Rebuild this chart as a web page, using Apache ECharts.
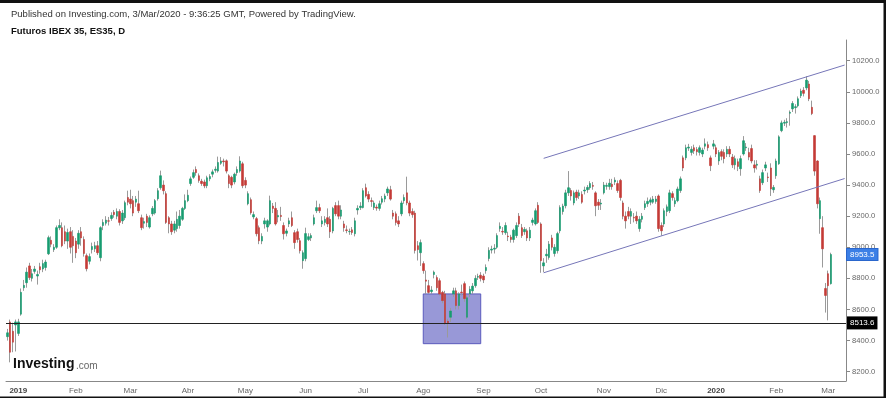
<!DOCTYPE html>
<html>
<head>
<meta charset="utf-8">
<script src="https://cdn.jsdelivr.net/npm/echarts@6/dist/echarts.min.js"></script>
<style>
  html, body { margin: 0; padding: 0; background: #fff; }
  #main { width: 886px; height: 398px; }
</style>
</head>
<body>
<div id="main"></div>
<script>
// daily candles, each row = [open, close, low, high]
var dec18 = [[8425,8450,8400,8475],[8520,8325,8260,8535],[8460,8390,8325,8515],[8500,8520,8330,8535]];
var jan19 = [[8446,8520,8430,8540],[8570,8710,8560,8735],[8740,8755,8720,8790],[8772,8840,8740,8870],[8880,8805,8790,8900],
  [8800,8830,8780,8860],[8845,8860,8830,8880],[8815,8825,8760,8850],[8875,8855,8830,8900],[8860,8895,8840,8920],
  [8870,8905,8850,8920],[8958,9062,8950,9075],[9045,9020,9000,9070],[8985,9000,8970,9020],[9000,9126,8990,9140],
  [9125,9140,9110,9180],[9126,9010,9000,9160],[9100,9040,9020,9140],[9040,9095,8990,9120],[9100,9000,8960,9130],
  [9070,9010,8900,9110]];
var feb19 = [[9040,8965,8930,9060],[9020,9090,8990,9110],[9100,9060,9010,9130],[9050,8960,8940,9070],[8946,8862,8845,8960],
  [8910,8940,8890,8960],[8985,9005,8960,9030],[8990,9010,8970,9035],[9010,8965,8950,9040],[8933,9126,8910,9135],
  [9140,9160,9110,9180],[9155,9175,9140,9200],[9170,9168,9140,9195],[9185,9205,9170,9225],[9225,9210,9190,9240],
  [9200,9230,9180,9250],[9230,9160,9140,9245],[9170,9220,9150,9240],[9190,9287,9175,9300],[9320,9290,9270,9364]];
var mar19 = [[9310,9280,9250,9370],[9300,9220,9200,9330],[9290,9310,9260,9330],[9280,9235,9220,9364],[9190,9126,9110,9210],
  [9155,9165,9120,9190],[9200,9160,9130,9215],[9130,9190,9120,9205],[9215,9250,9200,9265],[9220,9300,9210,9310],
  [9312,9364,9300,9380],[9383,9460,9370,9493],[9400,9364,9340,9430],[9345,9160,9150,9360],[9190,9150,9090,9200],
  [9150,9100,9080,9170],[9110,9150,9090,9170],[9120,9180,9100,9230],[9140,9200,9120,9240],[9180,9250,9170,9260],
  [9250,9300,9240,9340]];
var apr19 = [[9300,9335,9290,9370],[9410,9440,9395,9455],[9450,9480,9440,9500],[9500,9480,9460,9520],[9460,9430,9415,9475],
  [9425,9410,9395,9440],[9420,9395,9380,9435],[9396,9447,9380,9460],[9440,9455,9425,9470],[9470,9485,9450,9500],
  [9495,9502,9480,9520],[9490,9545,9480,9583],[9540,9555,9530,9580],[9555,9550,9520,9570],[9556,9490,9475,9565],
  [9460,9410,9380,9470],[9450,9400,9380,9460],[9420,9470,9405,9480],[9480,9500,9460,9520],[9490,9555,9480,9585],
  [9537,9396,9380,9550]];
var may19 = [[9430,9400,9380,9450],[9280,9345,9270,9360],[9306,9222,9210,9320],[9195,9210,9180,9230],[9184,9087,9070,9195],
  [9126,9042,9020,9140],[9040,9070,9020,9090],[9150,9170,9120,9190],[9130,9170,9100,9180],[9150,9300,9140,9332],
  [9265,9250,9220,9285],[9250,9150,9140,9290],[9195,9205,9160,9240],[9205,9198,9170,9260],[9140,9087,9050,9160],
  [9090,9105,9070,9120],[9150,9170,9130,9190],[9190,9140,9130,9230],[9094,9030,8990,9110],[9100,9050,9030,9120],
  [9042,8978,8960,9060],[8914,8965,8862,8980]];
var jun19 = [[8927,9088,8910,9126],[9050,9068,9040,9090],[9060,9075,9040,9090],[9150,9190,9140,9210],[9235,9255,9220,9300],
  [9255,9235,9220,9280],[9150,9170,9130,9200],[9160,9180,9140,9200],[9190,9150,9130,9250],[9180,9100,9060,9200],
  [9105,9250,9090,9260],[9268,9215,9200,9290],[9268,9200,9180,9300],[9200,9240,9180,9270],[9150,9125,9100,9170],
  [9112,9108,9090,9140],[9100,9102,9080,9120],[9112,9095,9080,9130],[9087,9170,9070,9190],[9240,9250,9210,9270],
  [9255,9265,9240,9290]];
var jul19 = [[9255,9364,9250,9380],[9383,9330,9320,9409],[9340,9310,9290,9360],[9300,9295,9260,9320],[9255,9285,9240,9300],
  [9258,9252,9235,9275],[9250,9280,9235,9300],[9290,9312,9275,9330],[9310,9330,9290,9345],[9350,9375,9330,9390],
  [9370,9310,9300,9395],[9220,9200,9180,9240],[9215,9160,9140,9230],[9170,9150,9130,9200],[9215,9285,9200,9300],
  [9300,9320,9280,9340],[9350,9285,9270,9454],[9285,9220,9200,9300],[9230,9210,9190,9250],[9220,8980,8960,9235],
  [9010,8985,8915,9040],[8965,9030,8880,9050]];
var aug19 = [[8895,8850,8830,8910],[8790,8782,8700,8850],[8753,8710,8700,8790],[8715,8725,8700,8750],[8825,8840,8800,8850],
  [8805,8740,8720,8820],[8785,8700,8690,8800],[8710,8657,8640,8720],[8700,8510,8500,8720],[8525,8510,8420,8540],
  [8550,8590,8520,8610],[8700,8720,8680,8740],[8720,8625,8600,8740],[8625,8700,8600,8710],[8712,8708,8690,8760],
  [8766,8670,8650,8780],[8550,8675,8540,8690],[8700,8730,8680,8750],[8720,8750,8700,8770],[8753,8800,8740,8820],
  [8808,8812,8790,8830],[8820,8800,8780,8840]];
var sep19 = [[8815,8790,8770,8830],[8850,8870,8830,8890],[8928,8980,8910,9000],[8982,8988,8960,9010],[8988,8994,8960,9020],
  [9000,9075,8990,9090],[9120,9135,9100,9160],[9102,9098,9080,9130],[9094,9140,9080,9160],[9072,9068,9040,9100],
  [9065,9050,9030,9080],[9050,9110,9030,9120],[9075,9140,9060,9160],[9200,9150,9130,9220],[9126,9075,9060,9150],
  [9100,9115,9080,9130],[9106,9060,9040,9120],[9060,9110,9040,9130],[9160,9175,9140,9190],[9150,9235,9140,9250],
  [9270,9160,9150,9290]];
var oct19 = [[9150,8914,8836,9160],[8880,8900,8840,8930],[8945,8955,8900,8990],[8935,9020,8920,9040],[9060,9000,8980,9080],
  [8960,9000,8940,9020],[8978,9088,8960,9100],[9106,9255,9090,9270],[9230,9265,9210,9280],[9267,9350,9250,9370],
  [9350,9383,9330,9490],[9365,9330,9300,9380],[9285,9350,9270,9365],[9355,9320,9300,9370],[9330,9350,9310,9370],
  [9340,9290,9280,9360],[9362,9368,9340,9390],[9370,9385,9350,9400],[9383,9410,9370,9425],[9398,9392,9370,9420],
  [9350,9267,9200,9360],[9290,9270,9240,9310],[9278,9284,9240,9310]];
var nov19 = [[9350,9400,9340,9420],[9392,9398,9370,9415],[9390,9412,9370,9440],[9405,9390,9370,9440],[9420,9432,9400,9450],
  [9410,9365,9350,9430],[9430,9320,9300,9440],[9285,9200,9180,9300],[9200,9170,9120,9230],[9230,9200,9180,9260],
  [9200,9230,9150,9250],[9192,9188,9160,9220],[9200,9170,9150,9230],[9120,9180,9100,9200],[9180,9200,9160,9220],
  [9255,9280,9240,9300],[9280,9295,9260,9320],[9290,9305,9270,9320],[9290,9310,9280,9330],[9295,9310,9280,9330],
  [9330,9120,9100,9340]];
var dec19 = [[9140,9106,9075,9160],[9150,9235,9130,9250],[9230,9260,9200,9275],[9235,9350,9220,9370],[9345,9320,9300,9360],
  [9280,9300,9260,9320],[9300,9375,9290,9390],[9365,9440,9350,9455],[9575,9510,9490,9590],[9575,9640,9560,9660],
  [9638,9644,9620,9665],[9610,9630,9590,9650],[9640,9620,9600,9660],[9628,9615,9590,9645],[9610,9640,9590,9655],
  [9600,9625,9580,9640],[9650,9665,9630,9700],[9660,9640,9620,9680],[9575,9525,9490,9590],[9650,9665,9630,9690]];
var jan20 = [[9640,9600,9580,9660],[9555,9610,9530,9625],[9615,9585,9560,9630],[9610,9570,9540,9630],[9600,9630,9580,9650],
  [9630,9600,9580,9650],[9580,9530,9510,9600],[9530,9570,9500,9590],[9550,9520,9490,9570],[9505,9570,9460,9590],
  [9600,9685,9590,9715],[9640,9645,9620,9670],[9610,9580,9560,9640],[9635,9555,9540,9660],[9530,9510,9480,9560],
  [9528,9534,9500,9560],[9440,9365,9350,9460],[9415,9480,9400,9500],[9510,9530,9490,9550],[9452,9448,9420,9480],
  [9510,9375,9330,9540],[9370,9385,9350,9400]];
var feb20 = [[9460,9555,9440,9570],[9537,9710,9530,9720],[9750,9800,9740,9815],[9798,9804,9780,9820],[9802,9808,9770,9830],
  [9862,9868,9782,9880],[9890,9925,9870,9940],[9898,9904,9860,9920],[9910,9955,9900,9970],[9975,10005,9960,10020],
  [10010,9990,9970,10030],[10025,10075,10010,10100],[10050,9955,9940,10070],[9900,9860,9850,9943],[9718,9490,9460,9720],
  [9555,9280,9250,9560],[9184,9300,9087,9320],[9126,8990,8870,9200],[8735,8690,8580,8770]];
var mar20 = [[8830,8753,8530,8850],[8766,8953.5,8760,8965]];

var months = [['', dec18], ['2019', jan19], ['Feb', feb19], ['Mar', mar19], ['Abr', apr19], ['May', may19],
  ['Jun', jun19], ['Jul', jul19], ['Ago', aug19], ['Sep', sep19], ['Oct', oct19], ['Nov', nov19],
  ['Dic', dec19], ['2020', jan20], ['Feb', feb20], ['Mar', mar20]];

var yTicks = [8200, 8400, 8600, 8800, 9000, 9200, 9400, 9600, 9800, 10000, 10200];

// annotations drawn on the chart: [category index, price]
var upperChannel = [[196, 9572], [306, 10172]];
var lowerChannel = [[196, 8836], [306, 9442]];
var highlightBox = [152, 8700, 173, 8380];
var supportLevel = 8513.6;
var lastPrice = 8953.5;

var categories = [];
var monthStart = {};
var candles = [];
months.forEach(function (m) {
  m[1].forEach(function (row, i) {
    if (i === 0 && m[0] !== '') monthStart[categories.length] = m[0];
    categories.push(m[0] + '#' + categories.length);
    candles.push(row);
  });
});
// blank space on the right of the last candle
for (var k = 0; k < 5; k++) categories.push('pad#' + k);

var bodies = candles.map(function (r) {
  return [r[0], r[1], Math.min(r[0], r[1]), Math.max(r[0], r[1])];
});

var chart = echarts.init(document.getElementById('main'));
var FONT = '"Liberation Sans", Arial, sans-serif';
var UP = '#179c70', DOWN = '#c43a36', WICK = '#9a9a9a';

function renderBox(params, api) {
  var p1 = api.coord([api.value(0), api.value(1)]);
  var p2 = api.coord([api.value(2), api.value(3)]);
  return {
    type: 'rect',
    shape: { x: p1[0], y: p1[1], width: p2[0] - p1[0], height: p2[1] - p1[1] },
    style: { fill: 'rgba(112,112,200,0.72)', stroke: '#5b5bbd', lineWidth: 1 }
  };
}

var option = {
  animation: false,
  textStyle: { fontFamily: FONT },
  grid: { left: 6, right: 40, top: 40, bottom: 17 },
  xAxis: {
    type: 'category',
    data: categories,
    boundaryGap: true,
    axisLine: { lineStyle: { color: '#888', width: 1 } },
    axisTick: {
      alignWithLabel: true, length: 4, lineStyle: { color: '#888' },
      interval: function (i) { return monthStart[i] !== undefined; }
    },
    axisLabel: {
      interval: function (i) { return monthStart[i] !== undefined; },
      margin: 6,
      fontSize: 8,
      color: '#666',
      fontFamily: FONT,
      formatter: function (v, i) {
        var s = monthStart[i];
        if (s === undefined) return '';
        return /^\d+$/.test(s) ? '{y|' + s + '}' : s;
      },
      rich: { y: { fontWeight: 'bold', color: '#444', fontSize: 8, fontFamily: FONT } }
    },
    splitLine: { show: false }
  },
  yAxis: {
    type: 'value',
    position: 'right',
    min: 8140,
    max: 10333,
    axisLine: { show: true, lineStyle: { color: '#888' } },
    axisTick: { show: true, length: 4, lineStyle: { color: '#888' }, customValues: yTicks },
    axisLabel: {
      customValues: yTicks, margin: 6, fontSize: 7.6, color: '#666', fontFamily: FONT,
      formatter: function (v) { return v.toFixed(1); }
    },
    splitLine: { show: false }
  },
  series: [
    {
      // highlighted box, behind the candles
      type: 'custom',
      z: 1,
      silent: true,
      clip: false,
      renderItem: renderBox,
      encode: { x: [0, 2], y: [1, 3] },
      data: [highlightBox]
    },
    {
      type: 'candlestick',
      name: 'wicks',
      data: candles,
      z: 2,
      barWidth: 1,
      itemStyle: { color: WICK, color0: WICK, borderColor: WICK, borderColor0: WICK, borderWidth: 1 }
    },
    {
      type: 'candlestick',
      name: 'bodies',
      data: bodies,
      z: 3,
      barWidth: 2,
      itemStyle: { color: UP, color0: DOWN, borderColor: UP, borderColor0: DOWN, borderWidth: 0.6 }
    },
    {
      type: 'line',
      data: [],
      z: 4,
      silent: true,
      markLine: {
        silent: true,
        symbol: 'none',
        animation: false,
        lineStyle: { color: '#7676b8', width: 1, type: 'solid' },
        label: { show: false },
        data: [
          [{ coord: upperChannel[0] }, { coord: upperChannel[1] }],
          [{ coord: lowerChannel[0] }, { coord: lowerChannel[1] }],
          {
            yAxis: supportLevel,
            lineStyle: { color: '#222', width: 1 },
            label: {
              show: true, position: 'end', distance: 1, formatter: supportLevel.toFixed(1),
              backgroundColor: '#000', color: '#fff', padding: [3, 3, 2, 3], fontSize: 8, fontFamily: FONT
            }
          },
          {
            yAxis: lastPrice,
            lineStyle: { color: 'rgba(0,0,0,0)', width: 0 },
            label: {
              show: true, position: 'end', distance: 1, formatter: lastPrice.toFixed(1),
              backgroundColor: '#3b7fe6', borderColor: '#2a66cc', borderWidth: 1,
              color: '#fff', padding: [2, 3, 1, 3], fontSize: 8, fontFamily: FONT
            }
          }
        ]
      }
    }
  ],
  graphic: [
    { type: 'rect', shape: { x: 0, y: 0, width: 886, height: 3 }, style: { fill: '#111' }, z: 100 },
    { type: 'rect', shape: { x: 883.5, y: 0, width: 2.5, height: 398 }, style: { fill: '#111' }, z: 100 },
    { type: 'rect', shape: { x: 0, y: 396.5, width: 886, height: 1.5 }, style: { fill: '#111' }, z: 100 },
    { type: 'text', left: 11, top: 9, z: 100,
      style: { text: 'Published on Investing.com, 3/Mar/2020 - 9:36:25 GMT, Powered by TradingView.',
        font: '9.5px ' + FONT, fill: '#333' } },
    { type: 'text', left: 11, top: 26, z: 100,
      style: { text: 'Futuros IBEX 35, ES35, D', font: 'bold 9.5px ' + FONT, fill: '#111' } },
    { type: 'text', left: 13, top: 357, z: 100,
      style: { text: 'Investing', font: 'bold 14px ' + FONT, fill: '#111' } },
    { type: 'text', left: 76, top: 361, z: 100,
      style: { text: '.com', font: '10px ' + FONT, fill: '#666' } }
  ]
};

chart.setOption(option);
</script>
</body>
</html>
